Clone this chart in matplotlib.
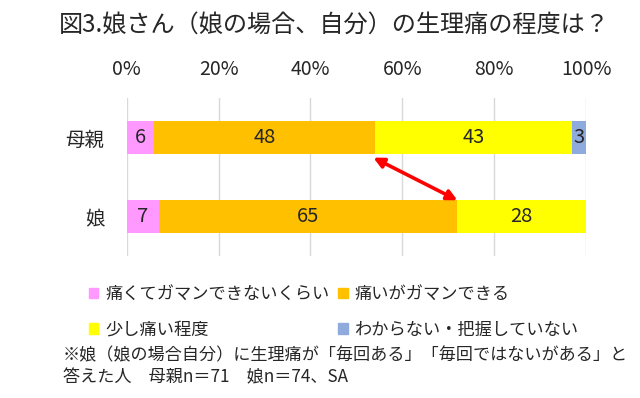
import numpy as np
import matplotlib
matplotlib.use('Agg')
import matplotlib.pyplot as plt
from matplotlib.patches import Patch

plt.rcParams['font.family'] = ['Noto Sans CJK JP', 'DejaVu Sans']

# data
groups = ['母親', '娘']
categories = ['痛くてガマンできないくらい', '痛いがガマンできる', '少し痛い程度', 'わからない・把握していない']
mother = [6, 48, 43, 3]
daughter = [7, 65, 28, 0]
colors = ['#FF99FF', '#FFC000', '#FFFF00', '#8FAADC']
ticks = [0, 20, 40, 60, 80, 100]
tick_labels = ['0%', '20%', '40%', '60%', '80%', '100%']

values = np.array([mother, daughter])
y = np.arange(len(groups))
bar_h = 0.41

fig = plt.figure(figsize=(6.4, 3.98), dpi=100)
ax = fig.add_axes([0.198, 0.3568, 0.7177, 0.397])

left = np.zeros(len(groups))
for i, cat in enumerate(categories):
    ax.barh(y, values[:, i], left=left, height=bar_h, color=colors[i], label=cat, zorder=2)
    for j in range(len(groups)):
        v = values[j, i]
        if v > 0:
            ax.text(left[j] + v / 2, y[j], str(v), ha='center', va='center', fontsize=14.5, color='#262626', zorder=3)
    left += values[:, i]

# red double arrow between the end of the orange segments
m_end = mother[0] + mother[1]
d_end = daughter[0] + daughter[1]
ax.annotate('', xy=(m_end - 0.3, y[0] + bar_h / 2 + 0.05), xytext=(d_end, y[1] - bar_h / 2),
            arrowprops=dict(arrowstyle='<|-|>', color='#FF0000', lw=2.6, mutation_scale=15,
                            shrinkA=0, shrinkB=0), zorder=4)

ax.set_xlim(0, 100)
ax.set_ylim(1.5, -0.5)
ax.set_xticks(ticks)
ax.set_xticklabels(tick_labels)
ax.xaxis.tick_top()
ax.tick_params(axis='x', length=0, pad=13, labelsize=14, labelcolor='#262626')
ax.set_yticks(y)
ax.set_yticklabels(groups)
ax.tick_params(axis='y', length=0, pad=16, labelsize=14, labelcolor='#262626')
ax.grid(axis='x', color='#D9D9D9', lw=1, zorder=0)
for s in ax.spines.values():
    s.set_visible(False)

fig.text(0.522, 0.937, '図3.娘さん（娘の場合、自分）の生理痛の程度は？', ha='center', va='center',
         fontsize=17.4, color='#262626')

order = [0, 2, 1, 3]
handles = [Patch(color=colors[i]) for i in order]
labels = [categories[i] for i in order]
fig.legend(handles, labels, ncol=2, loc='upper left', bbox_to_anchor=(0.139, 0.283),
           frameon=False, fontsize=12.4, handlelength=0.55, handleheight=0.55,
           handletextpad=0.4, columnspacing=0.5, labelspacing=1.0, borderpad=0, borderaxespad=0,
           labelcolor='#262626')

fig.text(0.098, 0.108, '※娘（娘の場合自分）に生理痛が「毎回ある」「毎回ではないがある」と',
         ha='left', va='center', fontsize=12.3, color='#262626')
fig.text(0.098, 0.053, '答えた人　母親n＝71　娘n＝74、SA', ha='left', va='center', fontsize=12.3, color='#262626')

fig.savefig('out.png', dpi=100)
